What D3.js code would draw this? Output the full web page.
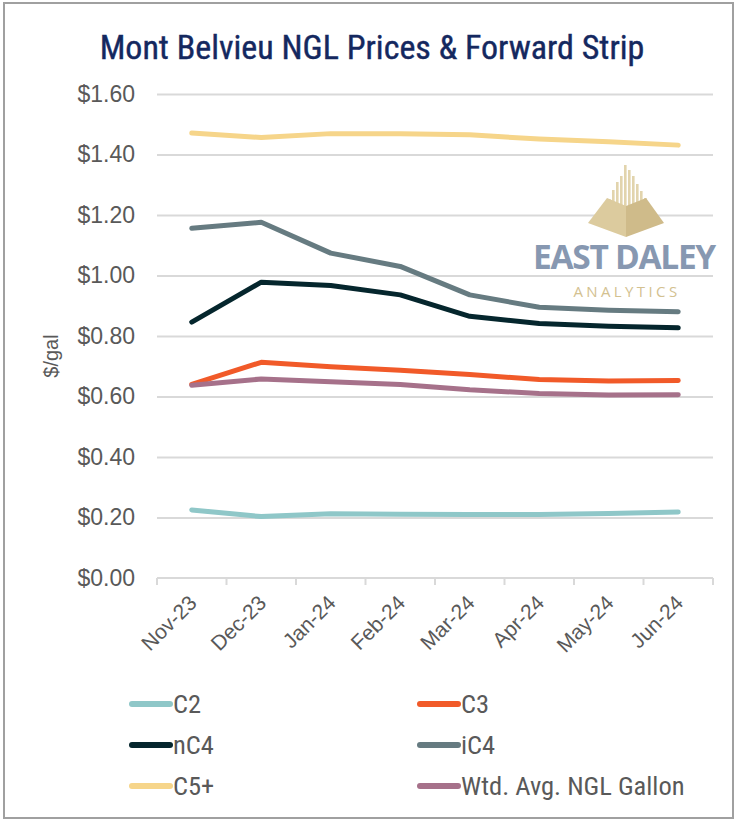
<!DOCTYPE html>
<html>
<head>
<meta charset="utf-8">
<script src="https://cdn.jsdelivr.net/npm/d3@7"></script>
<style>
  body { margin: 0; background: #fff; }
  svg { display: block; }
</style>
</head>
<body>
<svg id="chart" width="736" height="823"></svg>
<script>
const months = ["Nov-23", "Dec-23", "Jan-24", "Feb-24", "Mar-24", "Apr-24", "May-24", "Jun-24"];
const yTicks = [0, 0.2, 0.4, 0.6, 0.8, 1.0, 1.2, 1.4, 1.6];

const c2 = [0.225, 0.203, 0.212, 0.211, 0.210, 0.210, 0.213, 0.218];
const c3 = [0.640, 0.713, 0.698, 0.687, 0.673, 0.656, 0.651, 0.653];
const nc4 = [0.846, 0.978, 0.967, 0.936, 0.865, 0.841, 0.832, 0.827];
const ic4 = [1.156, 1.176, 1.074, 1.030, 0.936, 0.895, 0.885, 0.880];
const c5 = [1.471, 1.456, 1.469, 1.469, 1.465, 1.451, 1.442, 1.431];
const wtd = [0.637, 0.658, 0.649, 0.640, 0.622, 0.610, 0.605, 0.606];

const series = [
  { name: "C2", values: c2, color: "#8fc7c8" },
  { name: "C3", values: c3, color: "#f15a29" },
  { name: "nC4", values: nc4, color: "#05262d" },
  { name: "iC4", values: ic4, color: "#667b81" },
  { name: "C5+", values: c5, color: "#f6d58a" },
  { name: "Wtd. Avg. NGL Gallon", values: wtd, color: "#a6718a" }
];

const svg = d3.select("#chart");
const grey = "#595959";

// frame
svg.append("rect")
  .attr("x", 4).attr("y", 3).attr("width", 729).attr("height", 815)
  .attr("fill", "none").attr("stroke", "#a0a0a0").attr("stroke-width", 2);

// title
svg.append("text")
  .attr("x", 372).attr("y", 59)
  .attr("text-anchor", "middle")
  .style("font-family", "'Liberation Sans Narrow', 'Roboto Condensed', sans-serif")
  .style("font-size", "34px")
  .style("fill", "#14285f")
  .style("stroke", "#14285f").style("stroke-width", 0.4)
  .text("Mont Belvieu NGL Prices & Forward Strip");

const plotLeft = 157, plotRight = 713, plotTop = 94, plotBottom = 578;

const x = d3.scaleBand().domain(months).range([plotLeft, plotRight]);
const y = d3.scaleLinear().domain([0, 1.6]).range([plotBottom, plotTop]);

// y grid + labels
const yAxis = svg.append("g")
  .attr("transform", `translate(${plotLeft},0)`)
  .call(d3.axisLeft(y).tickValues(yTicks).tickFormat(d3.format("$.2f"))
    .tickSize(-(plotRight - plotLeft)).tickPadding(22));
yAxis.select(".domain").remove();
yAxis.selectAll("line").attr("stroke", "#d9d9d9").attr("stroke-width", 2)
  .filter(d => d === 0).remove();
yAxis.selectAll("text")
  .style("font-family", "'Liberation Sans', Arial, sans-serif")
  .style("font-size", "23px").style("fill", grey);

// x axis line and boundary ticks
svg.append("line")
  .attr("x1", plotLeft).attr("x2", plotRight).attr("y1", plotBottom).attr("y2", plotBottom)
  .attr("stroke", "#d9d9d9").attr("stroke-width", 2);
svg.append("g").selectAll("line")
  .data(months.map(m => x(m)).concat([plotRight]))
  .join("line")
  .attr("x1", d => d).attr("x2", d => d)
  .attr("y1", plotBottom).attr("y2", plotBottom + 7)
  .attr("stroke", "#d9d9d9").attr("stroke-width", 2);

svg.append("g").selectAll("text")
  .data(months)
  .join("text")
  .attr("transform", d => `translate(${x(d) + x.bandwidth() / 2 + 1},${plotBottom + 21}) rotate(-45)`)
  .attr("text-anchor", "end")
  .attr("dy", "0.35em")
  .style("font-family", "'Liberation Sans', Arial, sans-serif")
  .style("font-size", "21px").style("fill", grey)
  .text(d => d);

// y axis title
svg.append("text")
  .attr("transform", "translate(58,356) rotate(-90)")
  .attr("text-anchor", "middle")
  .style("font-family", "'Liberation Sans', Arial, sans-serif")
  .style("font-size", "20px").style("fill", grey)
  .text("$/gal");

// logo (watermark)
const logo = svg.append("g");
const bars = [[608, 199], [612, 190], [616, 182], [620, 176], [624, 165], [628, 170], [632, 176], [636, 184], [640, 191], [644, 198]];
logo.selectAll("rect")
  .data(bars)
  .join("rect")
  .attr("x", d => d[0]).attr("y", d => d[1])
  .attr("width", 2.6).attr("height", d => 212 - d[1])
  .attr("fill", "#e2d4ad");
logo.append("path")
  .attr("d", "M588,223 L607,198 L626,206 L626,237 Z")
  .attr("fill", "#dccb9e");
logo.append("path")
  .attr("d", "M626,206 L646,198 L664,223 L626,237 Z")
  .attr("fill", "#cfbb8a");
logo.append("text")
  .attr("x", 624).attr("y", 269).attr("text-anchor", "middle")
  .style("font-family", "'Open Sans', 'DejaVu Sans', sans-serif")
  .style("font-weight", "700").style("font-size", "33.5px")
  .style("letter-spacing", "-1.3px")
  .style("fill", "#8798b1")
  .text("EAST DALEY");
logo.append("text")
  .attr("x", 627).attr("y", 297).attr("text-anchor", "middle")
  .style("font-family", "'Open Sans', 'DejaVu Sans', sans-serif")
  .style("font-size", "15px").style("letter-spacing", "3.4px")
  .style("fill", "#d3c190")
  .text("ANALYTICS");

// series lines
const line = d3.line()
  .x((d, i) => x(months[i]) + x.bandwidth() / 2)
  .y(d => y(d));

svg.append("g").selectAll("path")
  .data(series)
  .join("path")
  .attr("d", d => line(d.values))
  .attr("fill", "none")
  .attr("stroke", d => d.color)
  .attr("stroke-width", 5)
  .attr("stroke-linecap", "round")
  .attr("stroke-linejoin", "round");

// legend
const legend = svg.append("g").selectAll("g")
  .data(series)
  .join("g")
  .attr("transform", (d, i) => `translate(${i % 2 === 0 ? 132 : 420},${704 + Math.floor(i / 2) * 41})`);
legend.append("line")
  .attr("x1", 0).attr("x2", 38)
  .attr("stroke", d => d.color).attr("stroke-width", 6)
  .attr("stroke-linecap", "round");
legend.append("text")
  .attr("x", 41).attr("dy", "0.35em")
  .style("font-family", "'Liberation Sans Narrow', 'Roboto Condensed', sans-serif")
  .style("font-size", "26.5px").style("fill", grey)
  .text(d => d.name);
</script>
</body>
</html>
